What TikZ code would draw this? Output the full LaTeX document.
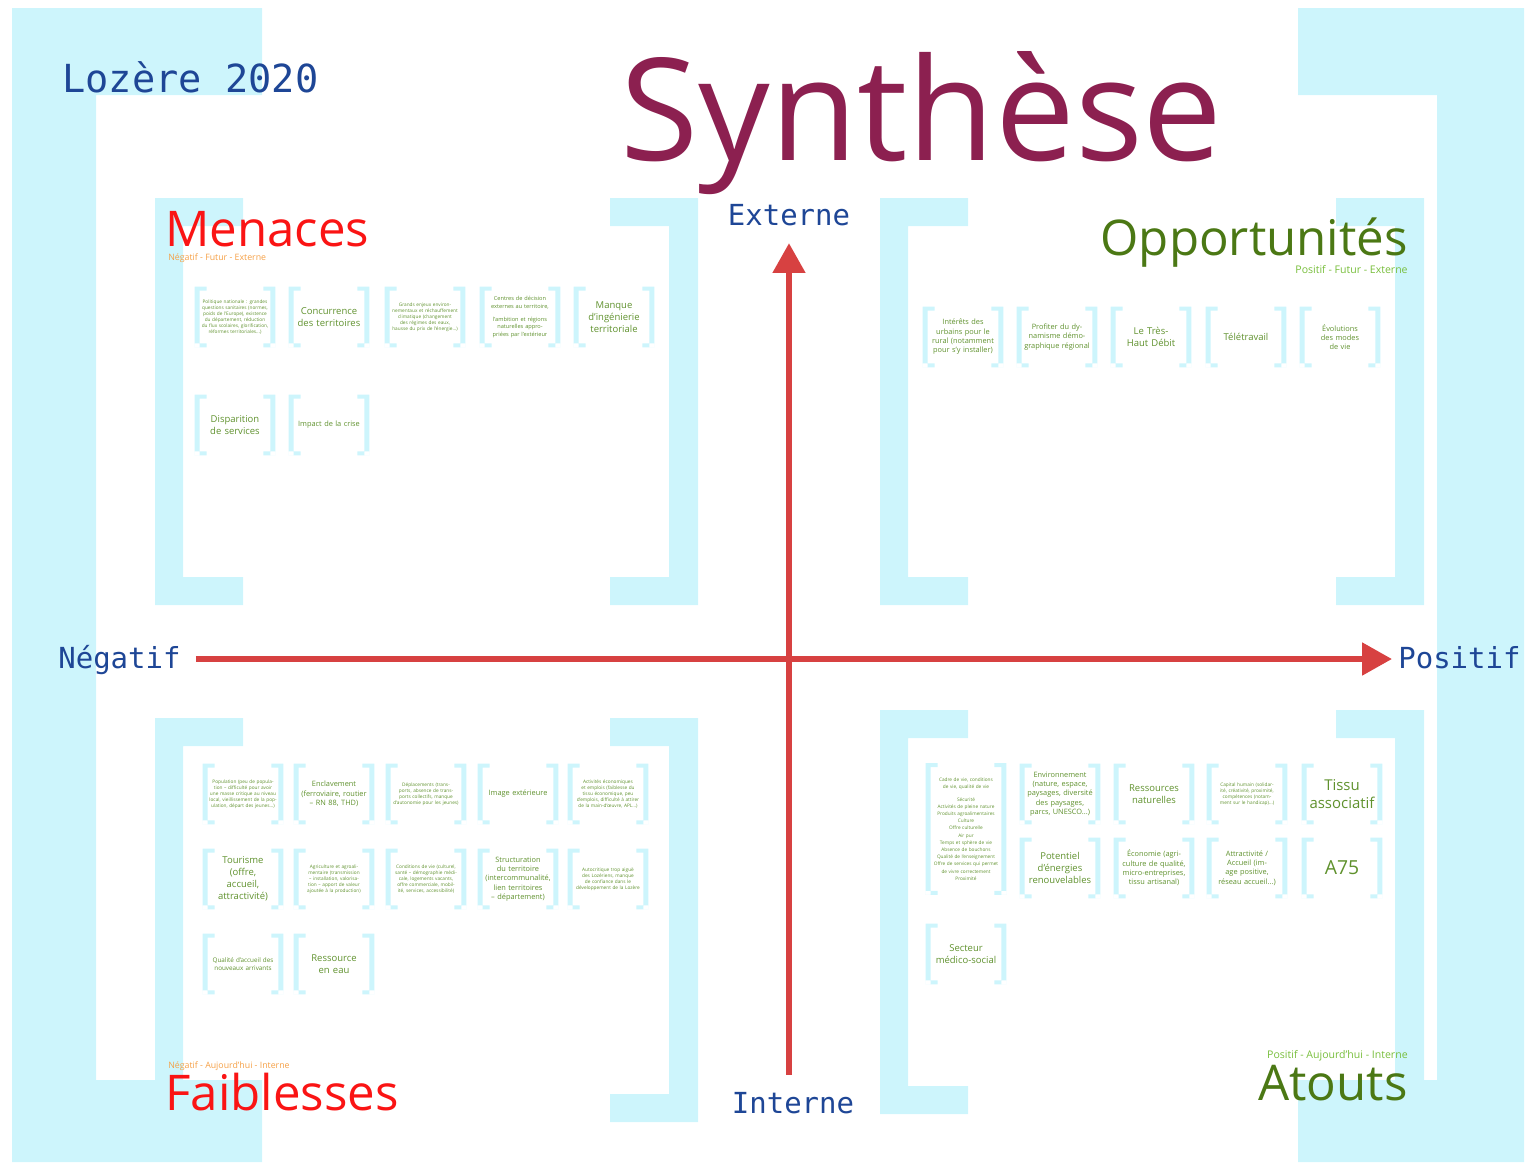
\documentclass[tikz,border=0pt]{standalone}
\usepackage{fontspec}
\setmainfont{Open Sans}
\newfontfamily\mono{DejaVu Sans Mono}
\usetikzlibrary{arrows.meta}

\definecolor{cyanpale}{RGB}{205,245,252}
\definecolor{bleulabel}{RGB}{30,70,150}
\definecolor{prune}{RGB}{140,32,80}
\definecolor{rougefleche}{RGB}{215,65,65}
\definecolor{rougetitre}{RGB}{250,20,20}
\definecolor{orangesous}{RGB}{245,160,70}
\definecolor{verttitre}{RGB}{75,120,20}
\definecolor{vertsous}{RGB}{120,190,60}
\definecolor{verttexte}{RGB}{95,145,45}

\tikzset{
  crochet/.style={fill=cyanpale},
  carte/.style={minimum width=1.6cm, minimum height=1.2cm, inner sep=0pt, text width=1.35cm, align=center, text=verttexte},
  minus/.style={font=\fontsize{2.7}{3.4}\selectfont},
  petit/.style={font=\fontsize{4.2}{5.3}\selectfont},
  moyen/.style={font=\fontsize{5.4}{6.8}\selectfont},
  grand/.style={font=\fontsize{8.5}{10.6}\selectfont},
  axe/.style={font=\mono\fontsize{16.5}{18}\selectfont, text=bleulabel, inner sep=0pt},
  titre/.style={inner sep=0pt, font=\fontsize{28}{30}\selectfont},
  soustitre/.style={inner sep=0pt, font=\fontsize{5}{6}\selectfont},
  fleche/.style={draw=rougefleche, line width=3.4pt, -{Triangle[width=18pt,length=17pt]}}
}

\newcommand\crochets[1]{%
  \fill[crochet] (#1.north west) rectangle ([xshift=0.1cm]#1.south west)
    (#1.north west) rectangle ++(12,4)
    (#1.south west) rectangle ++(12,-4)
    (#1.north east) rectangle ([xshift=-0.1cm]#1.south east)
    (#1.north east) rectangle ++(-12,4)
    (#1.south east) rectangle ++(-12,-4);}

\begin{document}
\begin{tikzpicture}[x=0.02cm, y=-0.02cm]
  \useasboundingbox (0,0) rectangle (1526,1164);
  % grands crochets
  \fill[crochet] (12,8) rectangle (262,95) (12,8) rectangle (96,1162) (12,1080) rectangle (262,1162);
  \fill[crochet] (1298,8) rectangle (1524,95) (1437,8) rectangle (1524,1162) (1298,1080) rectangle (1524,1162);
  % crochets des quadrants
  \foreach \xa/\ya/\xb/\yb in {155/198/698/605, 880/198/1424/605, 155/718/698/1122, 880/710/1424/1114}{
    \fill[crochet] (\xa,\ya) rectangle (\xa+28,\yb) (\xa,\ya) rectangle (\xa+88,\ya+28) (\xa,\yb-28) rectangle (\xa+88,\yb);
    \fill[crochet] (\xb-29,\ya) rectangle (\xb,\yb) (\xb-88,\ya) rectangle (\xb,\ya+28) (\xb-88,\yb-28) rectangle (\xb,\yb);
  }

  % titres
  \node[axe, font=\mono\fontsize{22}{24}\selectfont, anchor=base west] (lozere) at (62,92) {Lozère 2020};
  \node[inner sep=0pt, anchor=base west, text=prune, font=\fontsize{81}{90}\selectfont] (synthese) at (620,160) {Synthèse};

  \node[titre, text=rougetitre, anchor=base west] (menaces) at (165,246) {Menaces};
  \node[soustitre, text=orangesous, anchor=north west] (menacesSous) at (168,253) {Négatif - Futur - Externe};
  \node[titre, text=verttitre, anchor=base east] (opportunites) at (1408,255) {Opportunités};
  \node[soustitre, text=vertsous, anchor=north east, font=\fontsize{6}{7}\selectfont] (opportunitesSous) at (1408,265) {Positif - Futur - Externe};
  \node[titre, text=rougetitre, anchor=base west] (faiblesses) at (165,1110) {Faiblesses};
  \node[soustitre, text=orangesous, anchor=south west] (faiblessesSous) at (168,1071) {Négatif - Aujourd'hui - Interne};
  \node[titre, text=verttitre, anchor=base east] (atouts) at (1408,1100) {Atouts};
  \node[soustitre, text=vertsous, anchor=south east, font=\fontsize{6}{7}\selectfont] (atoutsSous) at (1408,1061) {Positif - Aujourd'hui - Interne};

  % axes
  \node[axe] (externe) at (789,215) {Externe};
  \node[axe] (interne) at (793,1103) {Interne};
  \node[axe, anchor=base west] (negatif) at (58,668) {Négatif};
  \node[axe, anchor=base west] (positif) at (1398,668) {Positif};
  \draw[fleche, shorten <=0.34cm, shorten >=0.34cm] (interne.north -| externe.south) -- (externe.south);
  \draw[fleche, shorten <=0.3cm, shorten >=0.12cm] ([yshift=0.18cm]negatif.base east) -- ([yshift=0.18cm]positif.base west);

  % Menaces
  \node[carte, minus] (m1) at (235,317) {Politique nationale : grandes questions sanitaires (normes, poids de l'Europe), existence du département, réduction du flux scolaires, glorification, réformes territoriales...)};
  \node[carte, moyen] (m2) at (329,317) {Concurrence\\des territoires};
  \node[carte, minus] (m3) at (425,317) {Grands enjeux environnementaux et réchauffement climatique (changement des régimes des eaux, hausse du prix de l'énergie...)};
  \node[carte, minus, font=\fontsize{3.2}{4.4}\selectfont] (m4) at (520,317) {Centres de décision externes au territoire,\\[3pt] l'ambition et régions naturelles appropriées par l'extérieur};
  \node[carte, moyen] (m5) at (614,317) {Manque\\d'ingénierie\\territoriale};
  \node[carte, moyen] (m6) at (235,425) {Disparition\\de services};
  \node[carte, petit] (m7) at (329,425) {Impact de la crise};

  % Opportunites
  \node[carte, petit] (o1) at (963,337) {Intérêts des urbains pour le rural (notamment pour s'y installer)};
  \node[carte, petit] (o2) at (1057,337) {Profiter du dynamisme démographique régional};
  \node[carte, moyen] (o3) at (1151,337) {Le Très-\\Haut Débit};
  \node[carte, moyen] (o4) at (1246,337) {Télétravail};
  \node[carte, petit] (o5) at (1340,337) {Évolutions\\des modes\\de vie};

  % Faiblesses
  \node[carte, minus] (f1) at (243,794) {Population (peu de population -- difficulté pour avoir une masse critique au niveau local, vieillissement de la population, départ des jeunes...)};
  \node[carte, petit] (f2) at (334,794) {Enclavement (ferroviaire, routier -- RN 88, THD)};
  \node[carte, minus] (f3) at (426,794) {Déplacements (transports, absence de transports collectifs, manque d'autonomie pour les jeunes)};
  \node[carte, petit] (f4) at (518,794) {Image extérieure};
  \node[carte, minus] (f5) at (608,794) {Activités économiques et emplois (faiblesse du tissu économique, peu d'emplois, difficulté à attirer de la main-d'œuvre, APL...)};
  \node[carte, moyen] (f6) at (243,879) {Tourisme\\(offre,\\accueil,\\attractivité)};
  \node[carte, minus] (f7) at (334,879) {Agriculture et agroalimentaire (transmission -- installation, valorisation -- apport de valeur ajoutée à la production)};
  \node[carte, minus] (f8) at (426,879) {Conditions de vie (culturel, santé -- démographie médicale, logements vacants, offre commerciale, mobilité, services, accessibilité)};
  \node[carte, petit] (f9) at (518,879) {Structuration du territoire (intercommunalité, lien territoires -- département)};
  \node[carte, minus] (f10) at (608,879) {Autocritique trop aiguë des Lozériens, manque de confiance dans le développement de la Lozère};
  \node[carte, petit, font=\fontsize{3.6}{4.6}\selectfont] (f11) at (243,964) {Qualité d'accueil des nouveaux arrivants};
  \node[carte, moyen] (f12) at (334,964) {Ressource\\en eau};

  % Atouts
  \node[carte, minus, font=\fontsize{2.7}{4.1}\selectfont, minimum height=2.62cm] (a1) at (966,829) {Cadre de vie, conditions de vie, qualité de vie\\[3pt] Sécurité\\ Activités de pleine nature\\ Produits agroalimentaires\\ Culture\\ Offre culturelle\\ Air pur\\ Temps et sphère de vie\\ Absence de bouchons\\ Qualité de l'enseignement\\ Offre de services qui permet de vivre correctement\\ Proximité};
  \node[carte, petit] (a2) at (1060,794) {Environnement (nature, espace, paysages, diversité des paysages, parcs, UNESCO...)};
  \node[carte, moyen] (a3) at (1154,794) {Ressources\\naturelles};
  \node[carte, minus] (a4) at (1247,794) {Capital humain (solidarité, créativité, proximité, compétences (notamment sur le handicap)...)};
  \node[carte, grand] (a5) at (1342,794) {Tissu\\associatif};
  \node[carte, moyen] (a6) at (1060,868) {Potentiel\\d'énergies\\renouvelables};
  \node[carte, petit] (a7) at (1154,868) {Économie (agriculture de qualité, micro-entreprises, tissu artisanal)};
  \node[carte, petit] (a8) at (1247,868) {Attractivité / Accueil (image positive, réseau accueil...)};
  \node[carte, font=\fontsize{11}{13}\selectfont] (a9) at (1342,868) {A75};
  \node[carte, moyen] (a10) at (966,954) {Secteur\\médico-social};

  % crochets des cartes
  \foreach \q/\k in {m/7, o/5, f/12, a/10}
    \foreach \i in {1,...,\k}
      \crochets{\q\i};
\end{tikzpicture}
\end{document}
